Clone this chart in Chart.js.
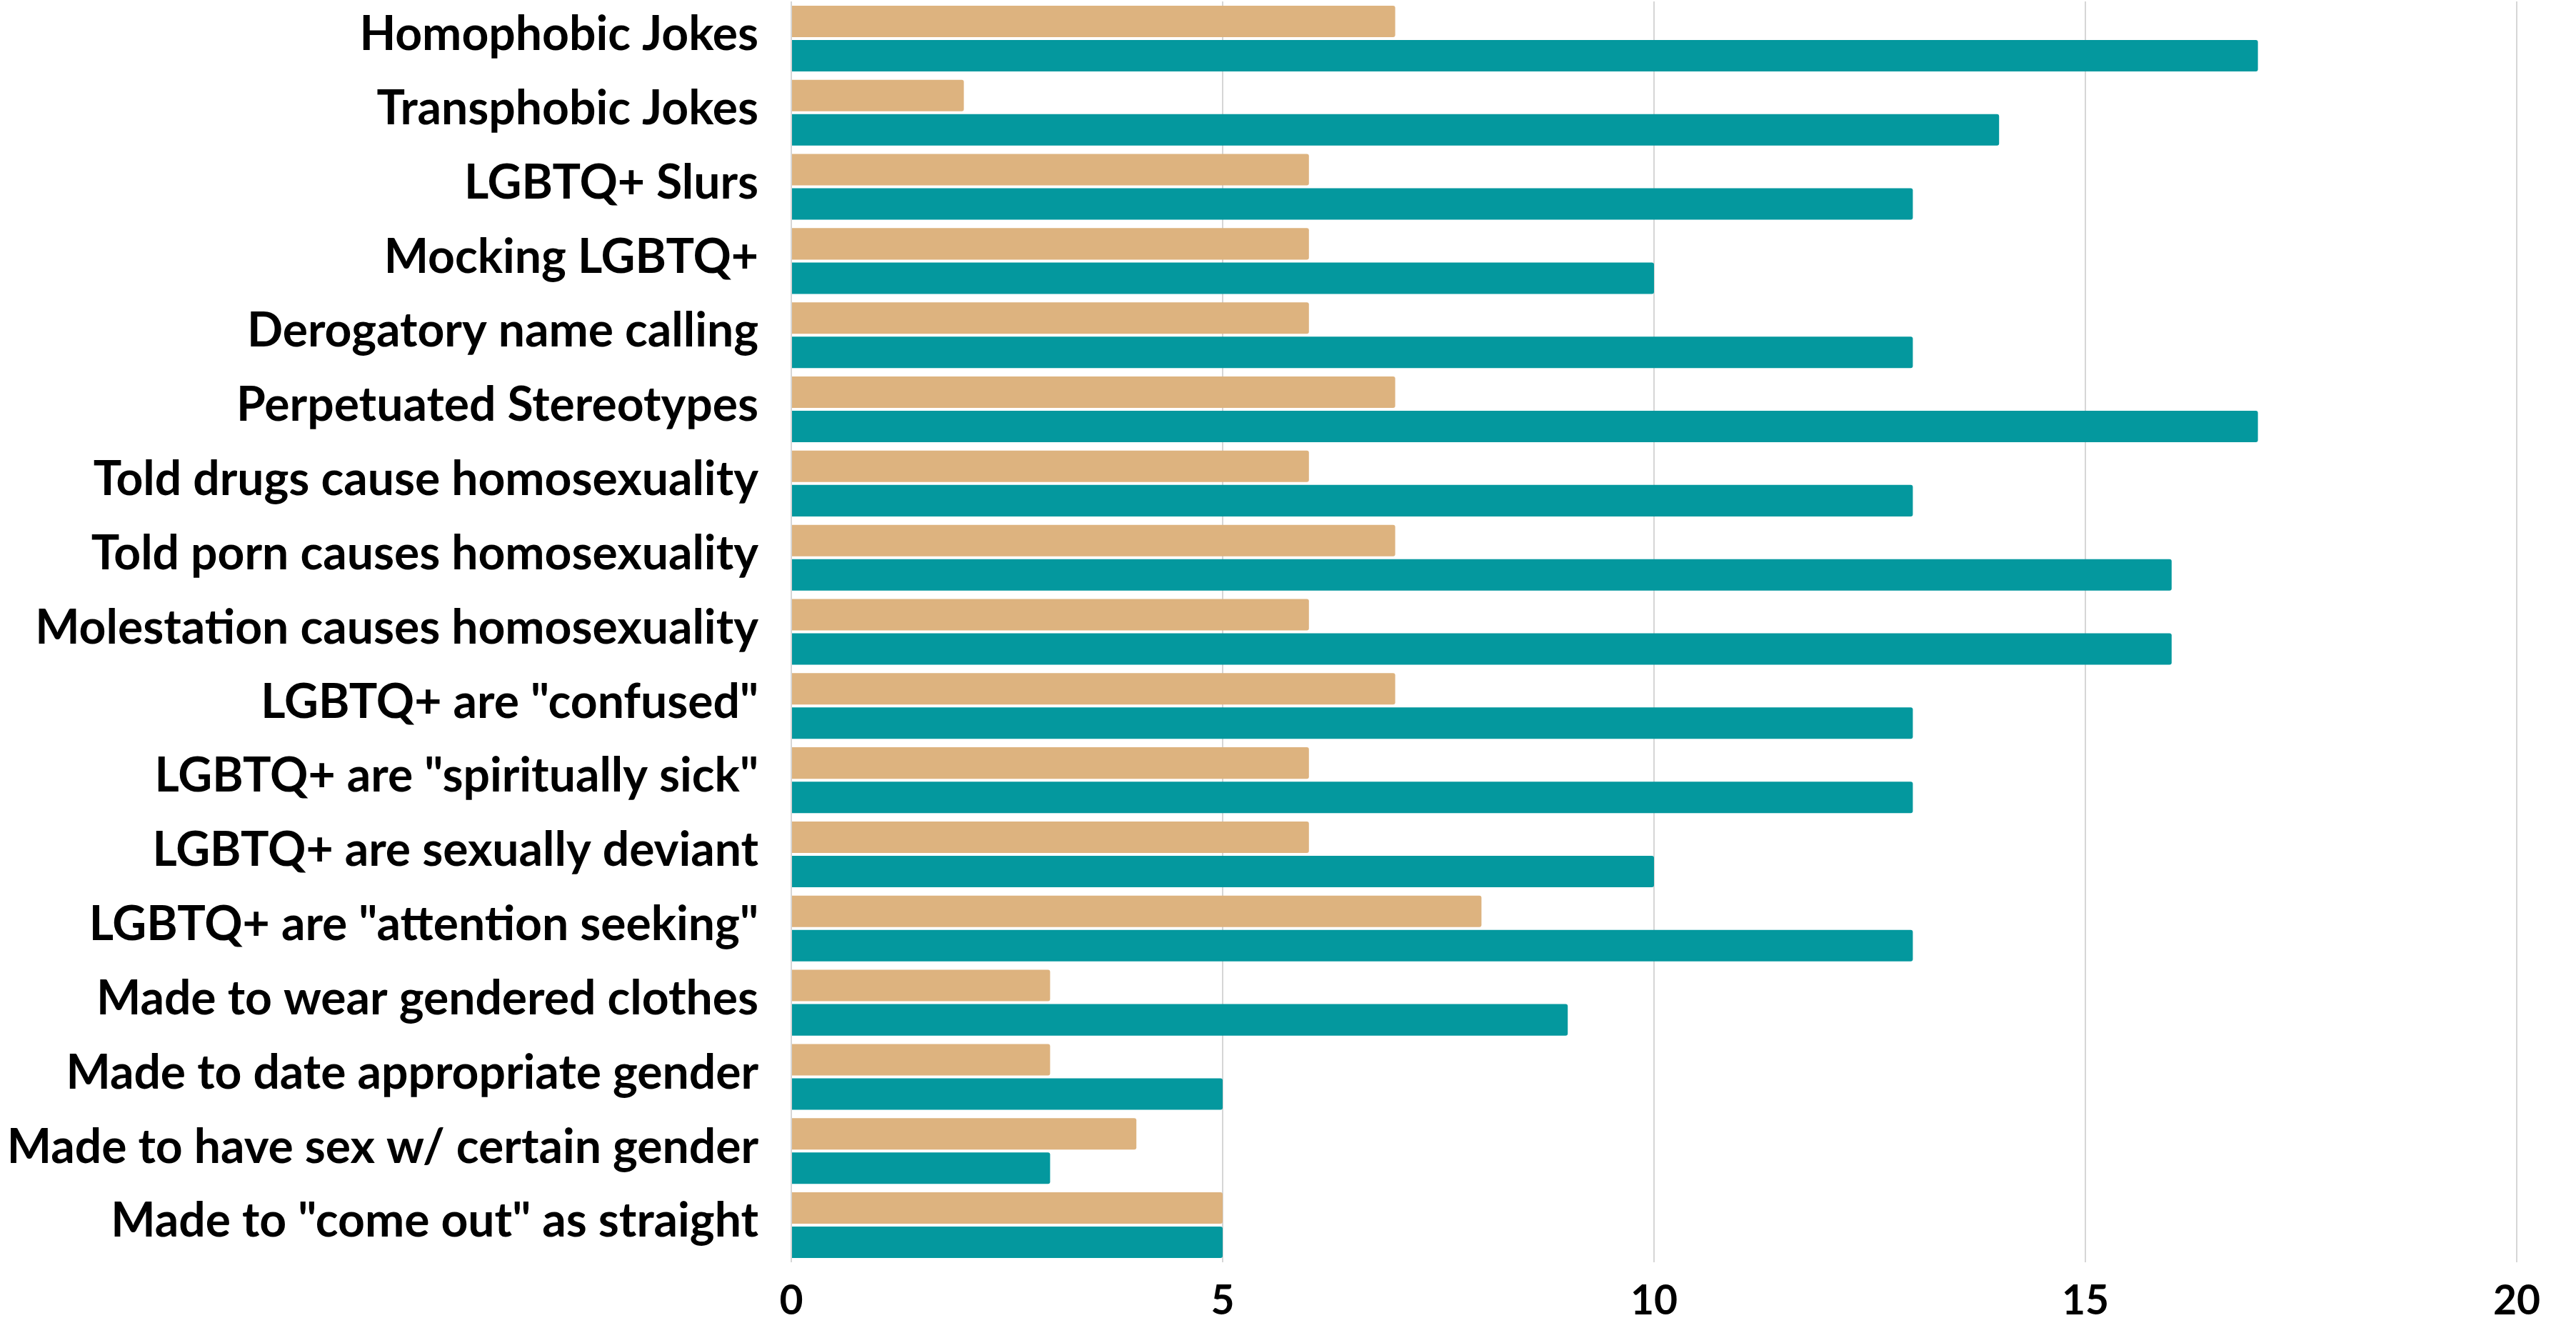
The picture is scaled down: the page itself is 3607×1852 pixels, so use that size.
<!DOCTYPE html>
<html>
<head>
<meta charset="utf-8">
<script src="https://cdn.jsdelivr.net/npm/chart.js@4/dist/chart.umd.min.js"></script>
<style>
  html, body { margin: 0; padding: 0; background: #ffffff; overflow: hidden; }
  #wrap { width: 3607px; height: 1852px; }
  canvas { display: block; }
</style>
</head>
<body>
<div id="wrap"><canvas id="c" width="3607" height="1852"></canvas></div>
<script>
const categories = [
  'Homophobic Jokes',
  'Transphobic Jokes',
  'LGBTQ+ Slurs',
  'Mocking LGBTQ+',
  'Derogatory name calling',
  'Perpetuated Stereotypes',
  'Told drugs cause homosexuality',
  'Told porn causes homosexuality',
  'Molestation causes homosexuality',
  'LGBTQ+ are "confused"',
  'LGBTQ+ are "spiritually sick"',
  'LGBTQ+ are sexually deviant',
  'LGBTQ+ are "attention seeking"',
  'Made to wear gendered clothes',
  'Made to date appropriate gender',
  'Made to have sex w/ certain gender',
  'Made to "come out" as straight'
];
const seriesTan = [7, 2, 6, 6, 6, 7, 6, 7, 6, 7, 6, 6, 8, 3, 3, 4, 5];
const seriesTeal = [17, 14, 13, 10, 13, 17, 13, 16, 16, 13, 13, 10, 13, 9, 5, 3, 5];
const xTicks = [0, 5, 10, 15, 20];

const ctx = document.getElementById('c').getContext('2d');
new Chart(ctx, {
  type: 'bar',
  data: {
    labels: categories,
    datasets: [
      { label: 'A', data: seriesTan, backgroundColor: '#DDB37F', borderRadius: 3, borderSkipped: 'start',
        categoryPercentage: 0.925, barPercentage: 0.917 },
      { label: 'B', data: seriesTeal, backgroundColor: '#04989E', borderRadius: 3, borderSkipped: 'start',
        categoryPercentage: 0.925, barPercentage: 0.917 }
    ]
  },
  options: {
    indexAxis: 'y',
    responsive: false,
    animation: false,
    layout: { padding: { top: 2, right: 83, left: 0, bottom: 0 } },
    plugins: { legend: { display: false }, tooltip: { enabled: false } },
    scales: {
      x: {
        min: 0, max: 20,
        afterBuildTicks: (scale) => { scale.ticks = xTicks.map(v => ({ value: v })); },
        afterFit: (scale) => { scale.height = 85; scale.paddingLeft = 0; scale.paddingRight = 0; },
        grid: { color: '#d6d6d6', lineWidth: 2, drawTicks: false },
        border: { display: false },
        ticks: { color: '#000000', padding: 20, font: { family: 'Lato', weight: 'bold', size: 57 } }
      },
      y: {
        afterFit: (scale) => { scale.width = 1108; scale.paddingTop = 0; scale.paddingBottom = 0; },
        grid: { display: false },
        border: { display: false },
        ticks: { color: '#000000', padding: 38, labelOffset: -5, autoSkip: false,
          font: { family: 'Lato', weight: 'bold', size: 66 } }
      }
    }
  }
});
</script>
</body>
</html>
